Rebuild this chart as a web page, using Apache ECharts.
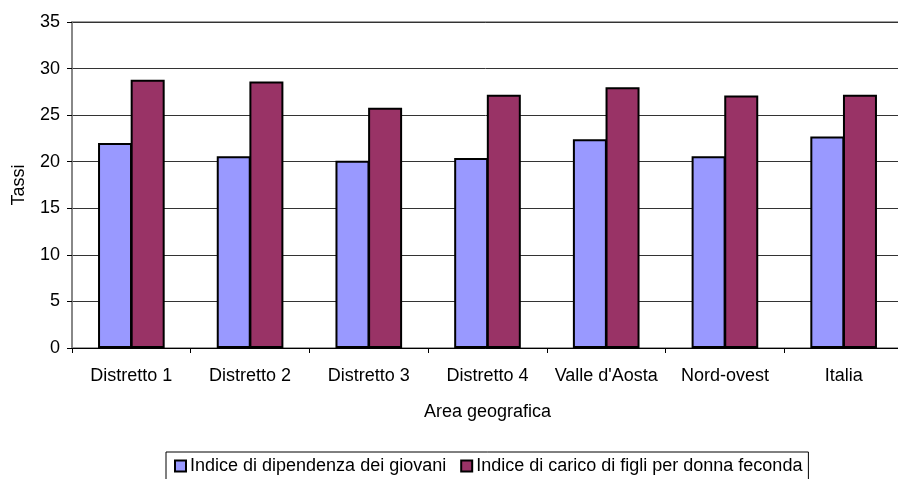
<!DOCTYPE html>
<html>
<head>
<meta charset="utf-8">
<script src="https://cdn.jsdelivr.net/npm/echarts@6/dist/echarts.min.js"></script>
<style>
  html, body { margin: 0; padding: 0; background: #fff; }
  #chart { width: 898px; height: 479px; }
</style>
</head>
<body>
<div id="chart"></div>
<script>
// Aree geografiche
const categories = ['Distretto 1', 'Distretto 2', 'Distretto 3', 'Distretto 4', "Valle d'Aosta", 'Nord-ovest', 'Italia'];
// Indice di dipendenza dei giovani
const dipendenzaGiovani = [22.0, 20.6, 20.1, 20.4, 22.4, 20.6, 22.7];
// Indice di carico di figli per donna feconda
const caricoFigli = [28.8, 28.6, 25.8, 27.2, 28.0, 27.1, 27.2];
const seriesNames = ['Indice di dipendenza dei giovani', 'Indice di carico di figli per donna feconda'];
const yTicks = [0, 5, 10, 15, 20, 25, 30, 35];

const font = 'Liberation Sans, Arial, sans-serif';
const chart = echarts.init(document.getElementById('chart'), null, { renderer: 'canvas' });

chart.setOption({
  backgroundColor: '#fff',
  animation: false,
  textStyle: { fontFamily: font, color: '#000' },
  grid: {
    left: 72, top: 22, width: 831, height: 326,
    outerBoundsMode: 'none',
    containLabel: false,
    show: true, borderColor: '#808080', borderWidth: 1.5, backgroundColor: 'transparent'
  },
  legend: {
    left: 166, top: 452,
    padding: [5, 6, 6, 8],
    itemGap: 14,
    itemWidth: 11, itemHeight: 11,
    borderColor: '#000', borderWidth: 1,
    backgroundColor: '#fff',
    icon: 'rect',
    textStyle: { fontSize: 18, fontFamily: font, color: '#000', padding: [0, 0, 0, -1] },
    data: seriesNames
  },
  xAxis: {
    type: 'category',
    data: categories,
    name: 'Area geografica',
    nameLocation: 'middle',
    nameGap: 55,
    nameTextStyle: { fontSize: 18, fontFamily: font, color: '#000' },
    axisLine: { show: true, lineStyle: { color: '#000', width: 1 } },
    axisTick: { show: true, length: 5, inside: false, lineStyle: { color: '#000' } },
    axisLabel: { interval: 0, fontSize: 18, fontFamily: font, color: '#000', margin: 19 },
    splitLine: { show: false }
  },
  yAxis: {
    type: 'value',
    min: yTicks[0], max: yTicks[yTicks.length - 1], interval: 5,
    name: 'Tassi',
    nameLocation: 'middle',
    nameGap: 44,
    nameRotate: 90,
    nameTextStyle: { fontSize: 18, fontFamily: font, color: '#000' },
    axisLine: { show: true, lineStyle: { color: '#808080', width: 1.5 } },
    axisTick: { show: true, length: 5, lineStyle: { color: '#000' } },
    axisLabel: { fontSize: 18, fontFamily: font, color: '#000', margin: 12 },
    splitLine: { show: true, lineStyle: { color: '#333', width: 1 } }
  },
  series: [
    {
      name: seriesNames[0],
      type: 'bar',
      data: dipendenzaGiovani,
      barWidth: 34,
      barGap: '-4%',
      itemStyle: { color: '#9999FF', borderColor: '#000', borderWidth: 2 }
    },
    {
      name: seriesNames[1],
      type: 'bar',
      data: caricoFigli,
      barWidth: 34,
      barGap: '-4%',
      itemStyle: { color: '#993366', borderColor: '#000', borderWidth: 2 }
    }
  ]
});
</script>
</body>
</html>
